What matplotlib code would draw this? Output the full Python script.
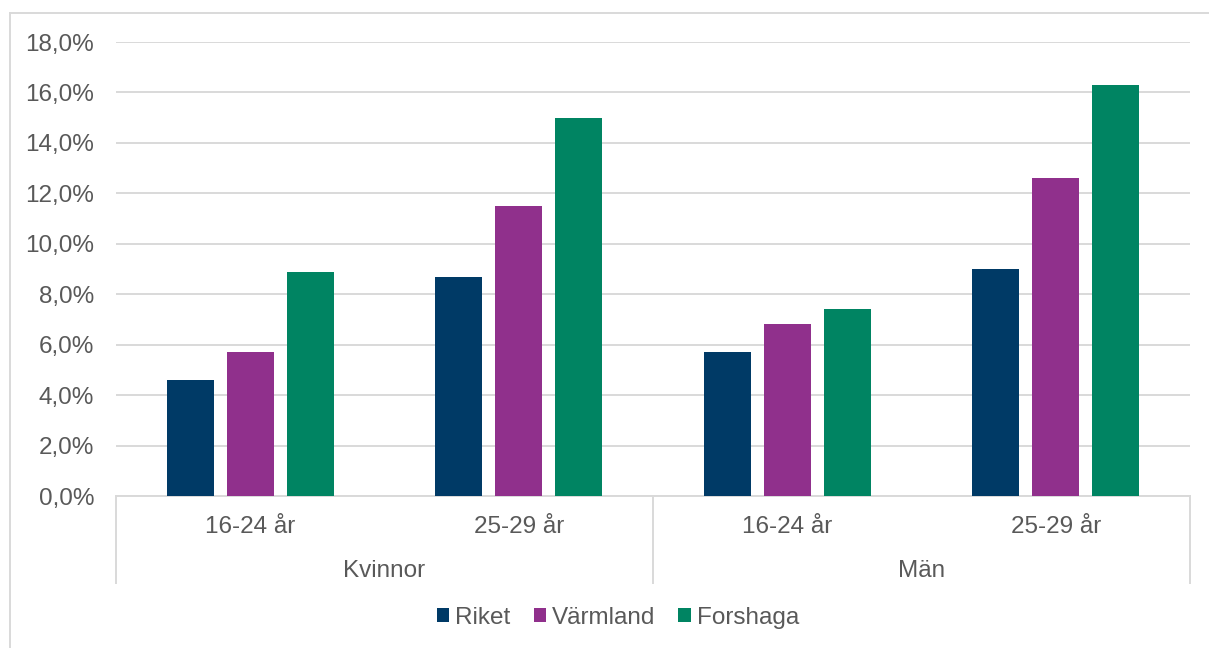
import numpy as np
import matplotlib
matplotlib.use("Agg")
import matplotlib.pyplot as plt
from matplotlib.lines import Line2D
from matplotlib.ticker import FuncFormatter

plt.rcParams['font.family'] = ['Liberation Sans', 'DejaVu Sans']

# data
age_labels = ['16-24 år', '25-29 år', '16-24 år', '25-29 år']
gender_labels = ['Kvinnor', 'Män']
series = ['Riket', 'Värmland', 'Forshaga']
riket = [4.6, 8.7, 5.7, 9.0]
varmland = [5.7, 11.5, 6.8, 12.6]
forshaga = [8.9, 15.0, 7.4, 16.3]
colors = ['#003A66', '#90308C', '#008462']

W, H = 1209, 648
fig = plt.figure(figsize=(W / 100, H / 100), dpi=100)
ax = fig.add_axes([116 / W, (H - 496) / H, (1190 - 116) / W, (496 - 42) / H])

txt = '#595959'
grid = '#D9D9D9'
fs = 17.5

x = np.arange(len(age_labels))
step = 0.2235
width = 0.175
for i, (vals, name) in enumerate(zip([riket, varmland, forshaga], series)):
    ax.bar(x + (i - 1) * step, vals, width, color=colors[i], label=name, zorder=3)

ax.set_xlim(-0.5, 3.5)
ax.set_ylim(0, 18)
ax.set_yticks(np.arange(0, 19, 2))
ax.yaxis.set_major_formatter(FuncFormatter(lambda v, p: f'{v:.1f}%'.replace('.', ',')))
ax.grid(axis='y', color=grid, linewidth=1.4, zorder=0)
ax.tick_params(axis='y', length=0, labelsize=fs, labelcolor=txt, pad=15.8)
ax.set_xticks([])
for s in ['top', 'right', 'left']:
    ax.spines[s].set_visible(False)
ax.spines['bottom'].set_color(grid)
ax.spines['bottom'].set_linewidth(1.4)

# category labels below axis
tr = ax.get_xaxis_transform()
for xi, lab in zip(x, age_labels):
    ax.text(xi, -31 / 454, lab, transform=tr, ha='center', va='center',
            fontsize=fs, color=txt)
for gi, lab in enumerate(gender_labels):
    ax.text(2 * gi + 0.5, -75 / 454, lab, transform=tr, ha='center', va='center',
            fontsize=fs, color=txt)
for xs in [-0.5, 1.5, 3.5]:
    ax.plot([xs, xs], [0, -87 / 454], transform=tr, color=grid, lw=1.4, clip_on=False)

leg = fig.legend(loc='center', bbox_to_anchor=(618 / W, 1 - 618 / H), ncol=3,
                 frameon=False, fontsize=fs, handlelength=0.5, handleheight=0.5,
                 handletextpad=0.25, columnspacing=0.95, labelcolor=txt)

# outer chart border
fig.add_artist(Line2D([10 / W, 1], [1 - 13 / H, 1 - 13 / H], color=grid, lw=1.4))
fig.add_artist(Line2D([10 / W, 10 / W], [0, 1 - 13 / H], color=grid, lw=1.4))

fig.savefig('out.png', dpi=100)
